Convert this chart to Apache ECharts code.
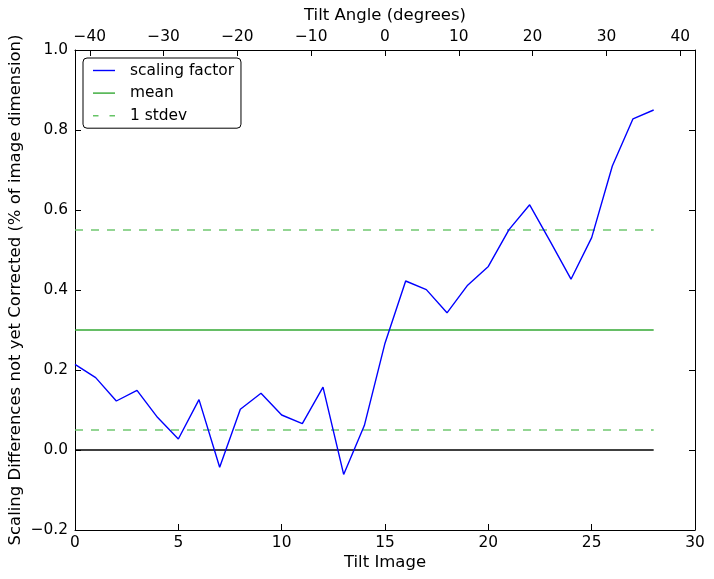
<!DOCTYPE html>
<html>
<head>
<meta charset="utf-8">
<script src="https://cdn.jsdelivr.net/npm/echarts@6/dist/echarts.min.js"></script>
<style>html,body{margin:0;padding:0;background:#fff}#c{width:714px;height:579px}</style>
</head>
<body>
<div id="c"></div>
<script>
const tiltImages = [0,1,2,3,4,5,6,7,8,9,10,11,12,13,14,15,16,17,18,19,20,21,22,23,24,25,26,27,28];
const scalingFactor = [0.214,0.181,0.1225,0.149,0.081,0.0275,0.126,-0.043,0.102,0.142,0.0875,0.066,0.157,-0.061,0.061,0.267,0.4225,0.401,0.343,0.412,0.459,0.551,0.613,0.521,0.427,0.531,0.71,0.828,0.85];
const meanValue = 0.3;
const stdevValue = 0.25;
const bottomTicks = [0,5,10,15,20,25,30];
const topTicks = [-40,-30,-20,-10,0,10,20,30,40];
const yTicks = [-0.2,0,0.2,0.4,0.6,0.8,1.0];

const fnt = 'DejaVu Sans';
const fs = 15.4;
const fsTitle = 16.5;
const minus = s => String(s).replace('-', '\u2212');
const first = tiltImages[0], last = tiltImages[tiltImages.length-1];
const solidIcon = 'path://M0,0L22,0L22,1.4L0,1.4Z';
const dashIcon = 'path://M0,0L5.5,0L5.5,1.4L0,1.4Z M16.5,0L22,0L22,1.4L16.5,1.4Z';

const chart = echarts.init(document.getElementById('c'), null, {renderer:'canvas'});
chart.setOption({
  animation:false,
  backgroundColor:'#fff',
  textStyle:{fontFamily:fnt},
  grid:{left:75,right:19,top:50,bottom:49,containLabel:false,outerBoundsMode:'none'},
  legend:{
    show:true,
    left:83, top:58, orient:'vertical',
    backgroundColor:'#fff', borderColor:'#000', borderWidth:1, borderRadius:4,
    padding:[5,7,5,10], itemWidth:22, itemHeight:14, itemGap:7.6,
    textStyle:{fontFamily:fnt, fontSize:fs, color:'#000', padding:[0,0,0,10]},
    data:[
      {name:'scaling factor', icon:solidIcon},
      {name:'mean', icon:solidIcon},
      {name:'1 stdev', icon:dashIcon}
    ]
  },
  xAxis:[
    {type:'value', position:'bottom', min:0, max:30, interval:5,
     name:'Tilt Image', nameLocation:'middle', nameGap:24, nameMoveOverlap:false,
     nameTextStyle:{fontFamily:fnt, fontSize:fsTitle, color:'#000'},
     axisLine:{show:true, onZero:false, lineStyle:{color:'#000', width:1}},
     axisTick:{show:true, inside:true, length:6, lineStyle:{color:'#000'}},
     axisLabel:{fontFamily:fnt, fontSize:fs, color:'#000', margin:5, formatter:v=>minus(v)},
     splitLine:{show:false}},
    {type:'value', position:'top', min:-42, max:42,
     name:'Tilt Angle (degrees)', nameLocation:'middle', nameGap:26, nameMoveOverlap:false,
     nameTextStyle:{fontFamily:fnt, fontSize:fsTitle, color:'#000'},
     axisLine:{show:true, onZero:false, lineStyle:{color:'#000', width:1}},
     axisTick:{show:true, inside:true, length:6, lineStyle:{color:'#000'}, customValues:topTicks},
     axisLabel:{fontFamily:fnt, fontSize:fs, color:'#000', margin:6, customValues:topTicks, formatter:v=>minus(v)},
     splitLine:{show:false}}
  ],
  yAxis:[
    {type:'value', position:'left', min:-0.2, max:1.0, interval:0.2,
     name:'Scaling Differences not yet Corrected (% of image dimension)', nameLocation:'middle', nameGap:51, nameMoveOverlap:false,
     nameTextStyle:{fontFamily:fnt, fontSize:fsTitle, color:'#000'},
     axisLine:{show:true, onZero:false, lineStyle:{color:'#000', width:1}},
     axisTick:{show:true, inside:true, length:6, lineStyle:{color:'#000'}},
     axisLabel:{fontFamily:fnt, fontSize:fs, color:'#000', margin:7, formatter:v=>minus(v.toFixed(1))},
     splitLine:{show:false}},
    {type:'value', position:'right', min:-0.2, max:1.0, interval:0.2,
     axisLine:{show:true, onZero:false, lineStyle:{color:'#000', width:1}},
     axisTick:{show:true, inside:true, length:6, lineStyle:{color:'#000'}},
     axisLabel:{show:false}, splitLine:{show:false}}
  ],
  series:[
    {name:'zero', type:'line', xAxisIndex:0, yAxisIndex:0, symbol:'none', silent:true,
     lineStyle:{color:'#000', width:1.3}, itemStyle:{color:'#000'}, data:[[first,0],[last,0]], z:1},
    {name:'scaling factor', type:'line', xAxisIndex:0, yAxisIndex:0, symbol:'none',
     lineStyle:{color:'#0000ff', width:1.4}, itemStyle:{color:'#0000ff'},
     data:tiltImages.map((x,i)=>[x, scalingFactor[i]]), z:5},
    {name:'mean', type:'line', xAxisIndex:0, yAxisIndex:0, symbol:'none',
     lineStyle:{color:'#33a833', width:1.4}, itemStyle:{color:'#33a833'},
     data:[[first,meanValue],[last,meanValue]], z:3},
    {name:'1 stdev', type:'line', xAxisIndex:0, yAxisIndex:0, symbol:'none',
     lineStyle:{color:'#66c466', width:1.4, type:[8,8]}, itemStyle:{color:'#66c466'},
     data:[[first,meanValue+stdevValue],[last,meanValue+stdevValue]], z:3},
    {name:'1 stdev', type:'line', xAxisIndex:0, yAxisIndex:0, symbol:'none',
     lineStyle:{color:'#66c466', width:1.4, type:[8,8]}, itemStyle:{color:'#66c466'},
     data:[[first,meanValue-stdevValue],[last,meanValue-stdevValue]], z:3}
  ]
});
</script>
</body>
</html>
